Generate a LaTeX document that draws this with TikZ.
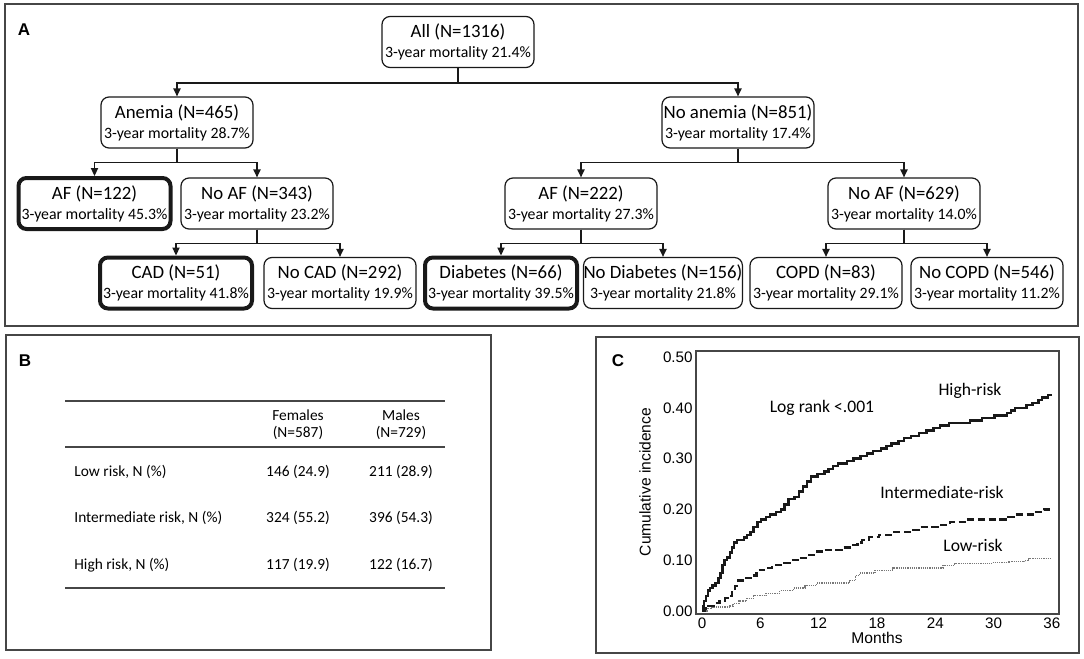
\documentclass[tikz,border=0pt]{standalone}
\usepackage{fontspec}
\setmainfont{Carlito}
\newfontfamily\arialfont{Liberation Sans}
\usepackage{tikz}
\usetikzlibrary{arrows.meta,positioning}
\usepackage{xcolor}
\definecolor{frgray}{RGB}{70,70,70}
\definecolor{lnblack}{RGB}{25,25,25}
\definecolor{lowgray}{RGB}{120,120,120}
\tikzstyle{arrow} = [line width=0.7pt, -{Triangle[length=4pt,width=3.6pt]}, color=lnblack]
\tikzstyle{group} = [rectangle, rounded corners=4pt, minimum width=76pt, minimum height=25.5pt, inner sep=0pt, align=center, draw=lnblack, line width=0.6pt, font=\fontsize{9.4}{9.6}\selectfont]
\tikzstyle{risk} = [group, line width=2pt]
\tikzstyle{panel} = [draw=frgray, line width=0.8pt]
\tikzstyle{rule} = [draw=frgray, line width=0.75pt]
\tikzstyle{cell} = [font=\fontsize{7.7}{9.5}\selectfont, inner sep=0pt]
\tikzstyle{tick} = [font=\arialfont\fontsize{7.6}{9}\selectfont, inner sep=0pt]
\tikzstyle{curvelabel} = [font=\fontsize{8.8}{11}\selectfont, inner sep=0pt]
\tikzstyle{letter} = [font=\arialfont\bfseries\fontsize{8.5}{10}\selectfont, inner sep=0pt]
\newcommand{\mort}[1]{\\[0.3pt]{\fontsize{7.9}{9}\selectfont #1}}

\begin{document}
\begin{tikzpicture}[x=0.5pt, y=-0.5pt]
\useasboundingbox[fill=white] (0,0) rectangle (1084,659);

% Panels
\draw[panel] (5,4) rectangle (1078,326);
\draw[panel] (6,335) rectangle (491,650);
\draw[panel] (596,337) rectangle (1079,653);
\node[letter] (lettA) at (24,30) {A};
\node[letter] (lettB) at (25,361) {B};
\node[letter] (lettC) at (618,361) {C};

% Tree nodes
\node (all) [group] at (458,42) {All (N=1316)\mort{3-year mortality 21.4\%}};
\node (anemia) [group] at (177,122.5) {Anemia (N=465)\mort{3-year mortality 28.7\%}};
\node (noanemia) [group] at (738,122.5) {No anemia (N=851)\mort{3-year mortality 17.4\%}};
\node (afA) [risk] at (94.5,203.5) {AF (N=122)\mort{3-year mortality 45.3\%}};
\node (noafA) [group] at (257,203.5) {No AF (N=343)\mort{3-year mortality 23.2\%}};
\node (afN) [group] at (581,203.5) {AF (N=222)\mort{3-year mortality 27.3\%}};
\node (noafN) [group] at (904,203.5) {No AF (N=629)\mort{3-year mortality 14.0\%}};
\node (cad) [risk] at (176,283) {CAD (N=51)\mort{3-year mortality 41.8\%}};
\node (nocad) [group] at (340,283) {No CAD (N=292)\mort{3-year mortality 19.9\%}};
\node (diab) [risk] at (501,283) {Diabetes (N=66)\mort{3-year mortality 39.5\%}};
\node (nodiab) [group] at (663,283) {No Diabetes (N=156)\mort{3-year mortality 21.8\%}};
\node (copd) [group] at (826,283) {COPD (N=83)\mort{3-year mortality 29.1\%}};
\node (nocopd) [group] at (987,283) {No COPD (N=546)\mort{3-year mortality 11.2\%}};

% Arrows
\draw[arrow] (all.south) -- ++(0,15) -| (anemia.north);
\draw[arrow] (all.south) -- ++(0,15) -| (noanemia.north);
\draw[arrow] (anemia.south) -- ++(0,14) -| (afA.north);
\draw[arrow] (anemia.south) -- ++(0,14) -| (noafA.north);
\draw[arrow] (noafA.south) -- ++(0,14) -| (cad.north);
\draw[arrow] (noafA.south) -- ++(0,14) -| (nocad.north);
\draw[arrow] (noanemia.south) -- ++(0,14) -| (afN.north);
\draw[arrow] (noanemia.south) -- ++(0,14) -| (noafN.north);
\draw[arrow] (afN.south) -- ++(0,14) -| (diab.north);
\draw[arrow] (afN.south) -- ++(0,14) -| (nodiab.north);
\draw[arrow] (noafN.south) -- ++(0,14) -| (copd.north);
\draw[arrow] (noafN.south) -- ++(0,14) -| (nocopd.north);

% Table
\draw[rule] (65,401) -- (445,401);
\draw[rule] (65,447) -- (445,447);
\draw[rule] (65,588) -- (445,588);
\node[cell] (hfem) at (298,415) {Females};
\node[cell] (hfemn) at (298,433) {(N=587)};
\node[cell] (hmal) at (401,415) {Males};
\node[cell] (hmaln) at (401,433) {(N=729)};
\node[cell, anchor=west] (rlow) at (74,472) {Low risk, N (\%)};
\node[cell, anchor=west] (rint) at (74,518) {Intermediate risk, N (\%)};
\node[cell, anchor=west] (rhigh) at (74,565) {High risk, N (\%)};
\node[cell] at (298,472) {146 (24.9)};
\node[cell] at (401,472) {211 (28.9)};
\node[cell] at (298,518) {324 (55.2)};
\node[cell] at (401,518) {396 (54.3)};
\node[cell] at (298,565) {117 (19.9)};
\node[cell] at (401,565) {122 (16.7)};

% Plot
\draw[draw=frgray, line width=0.6pt] (696,351) rectangle (1059,614);
\foreach \m in {0,6,...,36}
  \node[tick] at ({702+9.72*\m},623) {\m};
\foreach \v/\t in {0/0.00,1/0.10,2/0.20,3/0.30,4/0.40,5/0.50}
  \node[tick, anchor=east] at (693,{611-50.8*\v}) {\t};
\node[tick, font=\arialfont\fontsize{7.8}{9}\selectfont] (xtitle) at (877,638) {Months};
\node[tick, font=\arialfont\fontsize{7.8}{9}\selectfont, rotate=90] (ytitle) at (645,482) {Cumulative incidence};
\node[curvelabel] (logrank) at (822,408) {Log rank <.001};
\node[curvelabel] (lhigh) at (970,391) {High-risk};
\node[curvelabel] (lint) at (942,492) {Intermediate-risk};
\node[curvelabel] (llow) at (973,545) {Low-risk};

\begin{scope}[shift={(702,611)}, x=4.86pt, y=254pt]
% low risk
\draw[lowgray, line width=0.7pt, dash pattern=on 0.6pt off 0.5pt] plot[const plot] coordinates {
 (0,0) (0.5,0.005) (1.0,0.008) (2.9,0.01) (3.2,0.015) (3.8,0.02) (4.6,0.025) (5.3,0.03)
 (6.6,0.035) (8.0,0.04) (9.4,0.045) (10.6,0.05) (11.8,0.055) (15.2,0.06) (15.8,0.07)
 (16.2,0.075) (17.8,0.08) (19.6,0.085) (24.8,0.09) (26.0,0.093) (29.8,0.095) (31.6,0.097)
 (33.2,0.10) (33.6,0.103) (36,0.103)};
% intermediate risk
\draw[lnblack, line width=1.1pt, dash pattern=on 3.6pt off 1.8pt] plot[const plot] coordinates {
 (0,0) (0.3,0.005) (0.6,0.01) (1.2,0.015) (1.8,0.02) (2.4,0.025) (2.8,0.03) (3.1,0.04)
 (3.4,0.05) (3.7,0.06) (4.5,0.065) (5.2,0.07) (5.6,0.08) (6.4,0.085) (7.2,0.09) (8.3,0.095)
 (9.0,0.10) (10.0,0.105) (11.0,0.11) (11.8,0.117) (12.6,0.12) (14.4,0.125) (15.5,0.13)
 (16.0,0.135) (16.5,0.14) (17.2,0.145) (18.2,0.15) (19.6,0.155) (21.4,0.16) (22.3,0.165)
 (24.6,0.17) (25.5,0.175) (27.0,0.18) (31.5,0.185) (32.2,0.19) (34.0,0.195) (35.2,0.20) (36,0.20)};
% high risk
\draw[lnblack, line width=1.2pt] plot[const plot] coordinates {
 (0,0) (0.1,0.01) (0.2,0.02) (0.4,0.03) (0.6,0.04) (0.8,0.045) (1.1,0.05) (1.4,0.055)
 (1.7,0.065) (1.9,0.075) (2.1,0.09) (2.3,0.10) (2.6,0.105) (2.9,0.115) (3.1,0.125)
 (3.3,0.135) (3.6,0.14) (4.3,0.145) (4.6,0.15) (5.0,0.155) (5.3,0.165) (5.7,0.175)
 (6.1,0.18) (6.6,0.185) (7.0,0.19) (7.6,0.195) (8.1,0.20) (8.5,0.21) (8.9,0.22) (9.5,0.225)
 (10.0,0.235) (10.4,0.245) (10.8,0.255) (11.2,0.265) (11.9,0.27) (12.6,0.275) (13.0,0.28)
 (13.5,0.285) (14.0,0.29) (14.9,0.295) (15.6,0.30) (16.3,0.305) (17.0,0.31) (17.6,0.315)
 (18.4,0.32) (19.0,0.325) (19.5,0.33) (20.2,0.335) (20.8,0.34) (21.5,0.345) (22.3,0.35)
 (23.1,0.355) (23.8,0.36) (24.5,0.365) (25.4,0.37) (27.6,0.375) (28.8,0.38) (30.1,0.385)
 (31.4,0.39) (31.8,0.395) (32.2,0.40) (33.4,0.405) (34.0,0.41) (34.6,0.415) (35.0,0.42)
 (35.6,0.425) (36.0,0.425)};
\end{scope}
\end{tikzpicture}
\end{document}
